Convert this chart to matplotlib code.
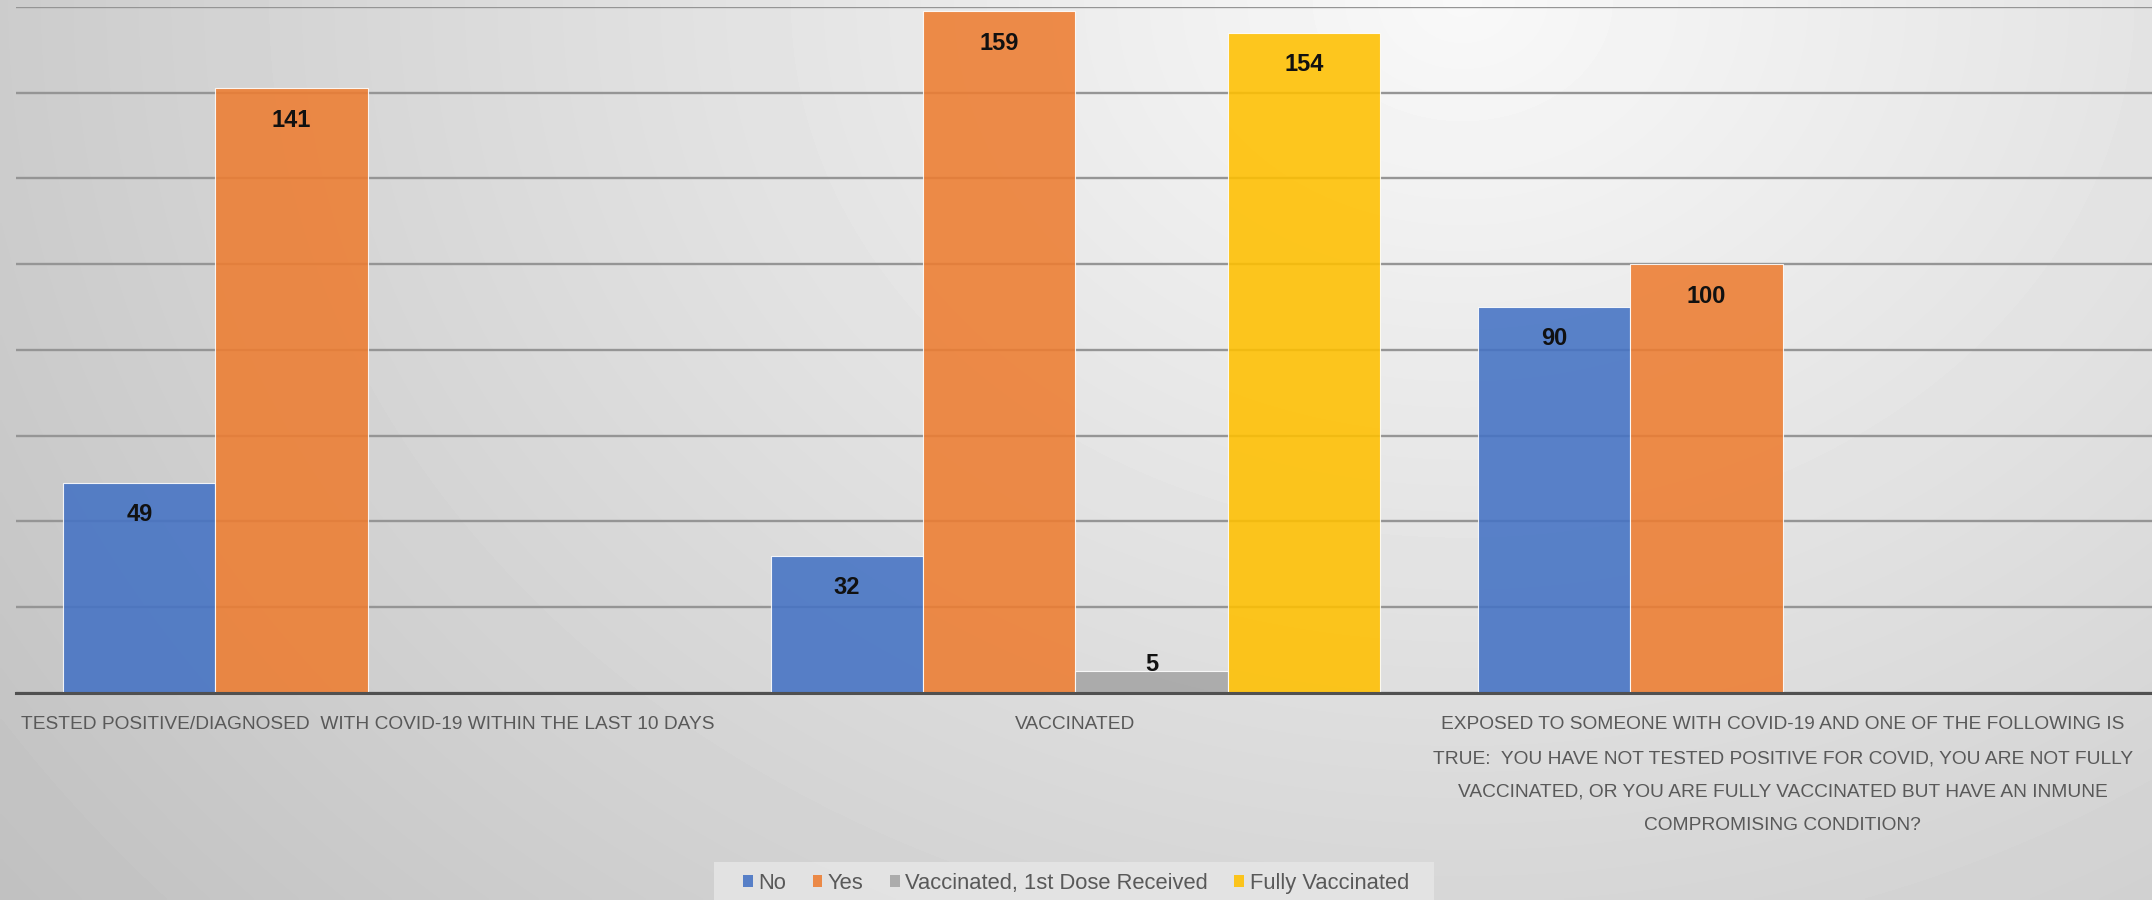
import numpy as np
import matplotlib
matplotlib.use("Agg")
import matplotlib.pyplot as plt
from matplotlib.patches import Patch, Rectangle

# ---- data ----
categories = [
    "TESTED POSITIVE/DIAGNOSED  WITH COVID-19 WITHIN THE LAST 10 DAYS",
    "VACCINATED",
    "EXPOSED TO SOMEONE WITH COVID-19 AND ONE OF THE FOLLOWING IS\n"
    "TRUE:  YOU HAVE NOT TESTED POSITIVE FOR COVID, YOU ARE NOT FULLY\n"
    "VACCINATED, OR YOU ARE FULLY VACCINATED BUT HAVE AN INMUNE\n"
    "COMPROMISING CONDITION?",
]
series_names = ["No", "Yes", "Vaccinated, 1st Dose Received", "Fully Vaccinated"]
no_vals = [49, 32, 90]
yes_vals = [141, 159, 100]
first_dose_vals = [np.nan, 5, np.nan]
fully_vals = [np.nan, 154, np.nan]
colors = ["#4472C4", "#ED7D31", "#A5A5A5", "#FFC000"]

series = [no_vals, yes_vals, first_dose_vals, fully_vals]

FONT = ["Liberation Sans", "DejaVu Sans"]

fig = plt.figure(figsize=(21.52, 9.0), dpi=100)

# gradient background
bg = fig.add_axes([0, 0, 1, 1], zorder=-10)
yy, xx = np.mgrid[0:1:300j, 0:1:600j]
yy = 1 - yy
d = np.sqrt(((xx - 0.68) / 0.68) ** 2 + ((yy - 1.0) / 1.3) ** 2)
v = np.clip(0.975 - 0.175 * d, 0, 1)
bg.imshow(v, cmap="gray", vmin=0, vmax=1, aspect="auto", extent=[0, 1, 0, 1],
          interpolation="bilinear")
bg.set_axis_off()

ax = fig.add_axes([12 / 1568, 1 - 505 / 656, 1 - 12 / 1568, (505 - 5) / 656])
ax.patch.set_alpha(0)

x = np.arange(len(categories))
w = 0.2153
for i, (vals, col, name) in enumerate(zip(series, colors, series_names)):
    vals = np.array(vals, dtype=float)
    bars = ax.bar(x + (i - 1.5) * w, vals, width=w, color=col, alpha=0.88,
                  edgecolor=(1, 1, 1, 0.6), linewidth=0.8, label=name, zorder=3)
    for b, val in zip(bars, vals):
        if np.isnan(val):
            continue
        cx = b.get_x() + b.get_width() / 2
        if val < 15:
            ax.annotate(f"{int(val)}", (cx, val), xytext=(0, -3), textcoords="offset points",
                        ha="center", va="bottom", fontsize=17, fontweight="bold",
                        family=FONT, color="#111111", zorder=5)
        else:
            ax.annotate(f"{int(val)}", (cx, val), xytext=(0, -23), textcoords="offset points",
                        ha="center", va="center", fontsize=17, fontweight="bold",
                        family=FONT, color="#111111", zorder=5)

ax.set_xlim(-0.4966, 2.522)
ax.set_ylim(0, 160)
ax.set_yticks(np.arange(0, 161, 20))
ax.yaxis.grid(True, color="#959595", linewidth=1.7, zorder=0)
ax.set_axisbelow(True)
ax.tick_params(axis="y", left=False, labelleft=False)
for s in ["left", "right", "top"]:
    ax.spines[s].set_visible(False)
ax.spines["bottom"].set_color("#505050")
ax.spines["bottom"].set_linewidth(2.2)
ax.spines["bottom"].set_zorder(6)

ax.set_xticks(x)
ax.set_xticklabels(categories, family=FONT, fontsize=13.8, color="#595959",
                   linespacing=2.28, multialignment="center", va="top")
ax.tick_params(axis="x", length=0, pad=17)

# legend background panel
fig.add_artist(Rectangle((520 / 1568, 0), (1045 - 520) / 1568, 1 - 628 / 656,
                         transform=fig.transFigure, facecolor="#e6e6e6",
                         edgecolor="none", alpha=0.85, zorder=1))
handles = [Patch(facecolor=c, edgecolor="none", alpha=0.88) for c in colors]
leg = fig.legend(handles, series_names, loc="upper center", bbox_to_anchor=(0.5, 1 - 628 / 656),
                 ncol=4, frameon=False, handlelength=0.45, handleheight=0.45,
                 handletextpad=0.25, columnspacing=1.2, borderpad=0.5, borderaxespad=0,
                 prop={"family": FONT, "size": 15.8}, labelcolor="#595959")
leg.set_zorder(2)

fig.savefig("out.png", dpi=100)
